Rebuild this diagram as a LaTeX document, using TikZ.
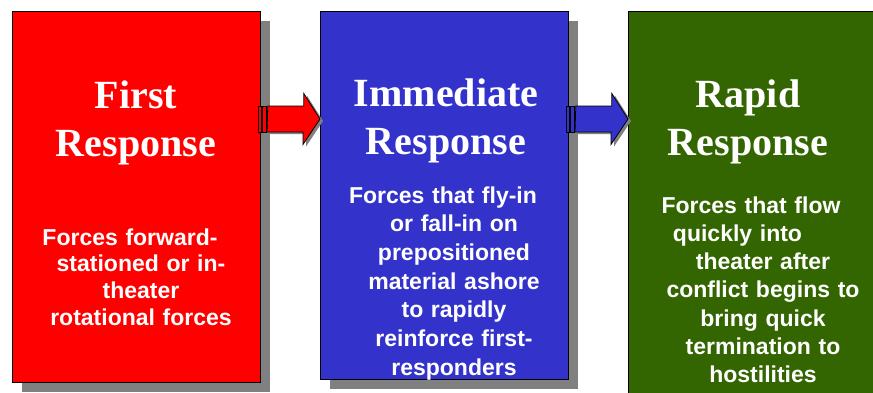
\documentclass[tikz,border=0pt]{standalone}
\usepackage{fontspec}
\setmainfont{Liberation Serif}
\newfontfamily\blurbfont{Liberation Sans}
\usetikzlibrary{calc,shadows}
\definecolor{firstred}{HTML}{FF0000}
\definecolor{immblue}{HTML}{3333CC}
\definecolor{rapidgreen}{HTML}{336600}
\definecolor{shadowgray}{HTML}{808080}
\tikzset{
  box/.style={draw=black,line width=0.8pt,minimum width=248pt,anchor=north west,inner sep=0pt,
    drop shadow={shadow xshift=10pt,shadow yshift=-10pt,fill=shadowgray,opacity=1}},
  title/.style={text=white,font=\fontsize{40}{48}\selectfont\bfseries,text width=240pt,
    align=center,inner sep=0pt,anchor=base},
  blurb/.style={text=white,font=\blurbfont\bfseries\fontsize{23}{#1}\selectfont,text width=240pt,
    align=center,inner sep=0pt,anchor=base},
  blurb/.default=28.5,
  arrowpart/.style={fill=#1,draw=black,line width=0.8pt,
    drop shadow={shadow xshift=3pt,shadow yshift=-2pt,fill=shadowgray,opacity=1}}
}
% block arrow from box #1 to box #2 in colour #3
\newcommand{\flowarrow}[3]{%
  \coordinate (#1tail) at ($(#1.north east)+(-2,108)$);
  \coordinate (#1tip) at (#2.north west |- #1tail);
  \path[arrowpart=#3] (#1tail) ++(0,-13) rectangle ++(3,26);
  \path[arrowpart=#3] (#1tail) ++(4,-13) rectangle ++(4,26);
  \path[arrowpart=#3] (#1tail) ++(9,-13) -- ++(36,0) -- ++(0,-12.5) -- (#1tip)
    -- ++(-17,25.5) -- ++(0,-12.5) -- ++(-36,0) -- cycle;
}
\begin{document}
\begin{tikzpicture}[x=1pt,y=-1pt]
  \useasboundingbox (0,0) rectangle (873,392);
  \clip (0,0) rectangle (873,392);
  \draw (12,11) node[box,fill=firstred,minimum height=371pt] (first) {};
  \draw (320,11) node[box,fill=immblue,minimum height=368pt] (immediate) {};
  \draw (628,11) node[box,fill=rapidgreen,minimum height=390pt] (rapid) {};

  \draw (136,108) node[title] (firsttitle) {First\\Response};
  \draw (446,106) node[title] (immtitle) {Immediate\\Response};
  \draw (748,107) node[title] (rapidtitle) {Rapid\\Response};

  \draw (141,245) node[blurb=26.7] (firstblurb)
    {\hspace*{-22pt}Forces forward-\\stationed or in-\\theater\\rotational forces};
  \draw (454,203) node[blurb=28.7] (immblurb)
    {\hspace*{-22pt}Forces that fly-in\\or fall-in on\\prepositioned\\material ashore\\to rapidly\\reinforce first-\\responders};
  \draw (763,213) node[blurb=28.3] (rapidblurb)
    {\hspace*{-24pt}Forces that flow\\\hspace*{-51pt}quickly into\\theater after\\conflict begins to\\bring quick\\termination to\\hostilities};

  \flowarrow{first}{immediate}{firstred}
  \flowarrow{immediate}{rapid}{immblue}
\end{tikzpicture}
\end{document}
